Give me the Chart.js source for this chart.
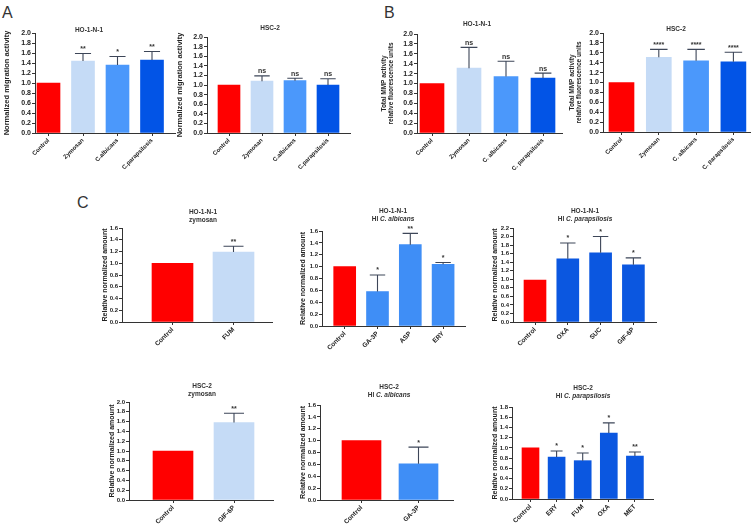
<!DOCTYPE html>
<html lang="en">
<head>
<meta charset="UTF-8">
<title>Migration, MMP activity and metabolites</title>
<script src="https://cdn.jsdelivr.net/npm/chart.js"></script>
<style>
  html, body { margin: 0; padding: 0; background: #fff; overflow: hidden; }
  body { width: 751px; height: 527px; position: relative; font-family: "Liberation Sans", Arial, sans-serif; }
  canvas { position: absolute; }
  .letter { position: absolute; font-size: 16px; line-height: 1; color: #333; }
</style>
</head>
<body>
<div class="letter" style="left:2px;top:5px">A</div>
<div class="letter" style="left:384px;top:5px">B</div>
<div class="letter" style="left:77px;top:195px">C</div>
<script>
// ---- data ----
const catsA = ['Control', 'Zymosan', 'C.albicans', 'C.parapsilosis'];
const catsB = ['Control', 'Zymosan', 'C. albicans', 'C. parapsilosis'];

// A: migration
const migHO = [1.0, 1.44, 1.36, 1.46];
const migHOsd = [0, 0.15, 0.17, 0.17];
const migHOsig = ['', '**', '*', '**'];

const migHSC = [1.0, 1.08, 1.09, 1.0];
const migHSCsd = [0, 0.11, 0.05, 0.13];
const migHSCsig = ['', 'ns', 'ns', 'ns'];

// B: total MMP activity
const mmpHO = [1.0, 1.31, 1.14, 1.11];
const mmpHOsd = [0, 0.42, 0.31, 0.10];
const mmpHOsig = ['', 'ns', 'ns', 'ns'];

const mmpHSC = [1.0, 1.51, 1.44, 1.42];
const mmpHSCsd = [0, 0.16, 0.23, 0.19];
const mmpHSCsig = ['', '****', '****', '****'];

// C: metabolites
const catsZymHO = ['Control', 'FUM'];
const zymHO = [1.0, 1.19];
const zymHOsd = [0, 0.10];
const zymHOsig = ['', '**'];

const catsAlbHO = ['Control', 'GA-3P', 'ASP', 'ERY'];
const albHO = [1.0, 0.58, 1.37, 1.04];
const albHOsd = [0, 0.28, 0.19, 0.03];
const albHOsig = ['', '*', '**', '*'];

const catsParHO = ['Control', 'OXA', 'SUC', 'GIF-6P'];
const parHO = [0.98, 1.48, 1.62, 1.34];
const parHOsd = [0, 0.37, 0.38, 0.16];
const parHOsig = ['', '*', '*', '*'];

const catsZymHSC = ['Control', 'GIF-6P'];
const zymHSC = [1.0, 1.58];
const zymHSCsd = [0, 0.19];
const zymHSCsig = ['', '**'];

const catsAlbHSC = ['Control', 'GA-3P'];
const albHSC = [1.0, 0.61];
const albHSCsd = [0, 0.28];
const albHSCsig = ['', '*'];

const catsParHSC = ['Control', 'ERY', 'FUM', 'OXA', 'MET'];
const parHSC = [1.0, 0.82, 0.75, 1.29, 0.84];
const parHSCsd = [0, 0.12, 0.15, 0.20, 0.08];
const parHSCsig = ['', '*', '*', '*', '**'];

// ---- styles ----
const RED = '#ff0000', LIGHT = '#c5dbf6', MID = '#4b98fb', DARK = '#0254e6';
const colA = [RED, LIGHT, MID, DARK];
const FONT = '"Liberation Sans", Arial, sans-serif';
const TP = 26, RP = 4;

Chart.defaults.font.family = FONT;
Chart.defaults.color = '#333';

const relAmount = 'Relative normalized amount';
const mmpTitle = ['Total MMP activity', 'relative fluorescence units'];

const panels = [
  { cats: catsA, vals: migHO, sd: migHOsd, sig: migHOsig, colors: colA, ytitle: 'Normalized migration activity', yMax: 2.0,
    axisX: 35, axisEnd: 175, top: 33, bottom: 133, c0: 48.5, sp: 34.5, bw: 23, yw: 33, xh: 50, xfs: 6, yfs: 7, ytfs: 7.5,
    title: [['HO-1-N-1']], tx: 89, ty: [30] },
  { cats: catsA, vals: migHSC, sd: migHSCsd, sig: migHSCsig, colors: colA, ytitle: 'Normalized migration activity', yMax: 2.0,
    axisX: 207, axisEnd: 350, top: 37, bottom: 133, c0: 229, sp: 33, bw: 22, yw: 32, xh: 50, xfs: 6, yfs: 7, ytfs: 7.5,
    title: [['HSC-2']], tx: 270, ty: [28] },
  { cats: catsB, vals: mmpHO, sd: mmpHOsd, sig: mmpHOsig, colors: colA, ytitle: mmpTitle, yMax: 2.0,
    axisX: 417, axisEnd: 562, top: 34, bottom: 133, c0: 432, sp: 37, bw: 24, yw: 37, xh: 50, xfs: 6, yfs: 7, ytfs: 6.5,
    title: [['HO-1-N-1']], tx: 477, ty: [24] },
  { cats: catsB, vals: mmpHSC, sd: mmpHSCsd, sig: mmpHSCsig, colors: colA, ytitle: mmpTitle, yMax: 2.0,
    axisX: 603, axisEnd: 750, top: 33, bottom: 132, c0: 621.5, sp: 37.3, bw: 25, yw: 35, xh: 50, xfs: 6, yfs: 7, ytfs: 6.5,
    title: [['HSC-2']], tx: 676, ty: [29] },
  { cats: catsZymHO, vals: zymHO, sd: zymHOsd, sig: zymHOsig, colors: [RED, LIGHT], ytitle: relAmount, yMax: 1.6,
    axisX: 122, axisEnd: 272, top: 228, bottom: 322, c0: 172.5, sp: 61, bw: 41, yw: 21, xh: 34, xfs: 6.5, yfs: 6, ytfs: 7,
    title: [['HO-1-N-1'], ['zymosan']], tx: 203, ty: [212, 220] },
  { cats: catsAlbHO, vals: albHO, sd: albHOsd, sig: albHOsig, colors: [RED, '#3f8ef6', '#3f8ef6', '#3f8ef6'], ytitle: relAmount, yMax: 1.6,
    axisX: 322, axisEnd: 465, top: 231, bottom: 326, c0: 344.7, sp: 32.8, bw: 22, yw: 23, xh: 34, xfs: 6.5, yfs: 6, ytfs: 7,
    title: [['HO-1-N-1'], ['HI ', '_C. albicans']], tx: 393, ty: [211, 219] },
  { cats: catsParHO, vals: parHO, sd: parHOsd, sig: parHOsig, colors: [RED, '#0b57e0', '#0b57e0', '#0b57e0'], ytitle: relAmount, yMax: 2.2,
    axisX: 513, axisEnd: 656, top: 228, bottom: 322, c0: 535, sp: 32.8, bw: 22, yw: 22, xh: 34, xfs: 6.5, yfs: 6, ytfs: 7,
    title: [['HO-1-N-1'], ['HI ', '_C. parapsilosis']], tx: 585, ty: [211, 219] },
  { cats: catsZymHSC, vals: zymHSC, sd: zymHSCsd, sig: zymHSCsig, colors: [RED, LIGHT], ytitle: relAmount, yMax: 2.0,
    axisX: 129, axisEnd: 273, top: 402, bottom: 500, c0: 173, sp: 61, bw: 40, yw: 21, xh: 34, xfs: 6.5, yfs: 6, ytfs: 7,
    title: [['HSC-2'], ['zymosan']], tx: 202, ty: [386, 394] },
  { cats: catsAlbHSC, vals: albHSC, sd: albHSCsd, sig: albHSCsig, colors: [RED, '#3f8ef6'], ytitle: relAmount, yMax: 1.6,
    axisX: 320, axisEnd: 453, top: 405, bottom: 500, c0: 361.5, sp: 57, bw: 39, yw: 21, xh: 34, xfs: 6.5, yfs: 6, ytfs: 7,
    title: [['HSC-2'], ['HI ', '_C. albicans']], tx: 389, ty: [387, 395] },
  { cats: catsParHSC, vals: parHSC, sd: parHSCsd, sig: parHSCsig, colors: [RED, '#0b57e0', '#0b57e0', '#0b57e0', '#0b57e0'], ytitle: relAmount, yMax: 1.8,
    axisX: 512, axisEnd: 653, top: 407, bottom: 499, c0: 530.5, sp: 26.1, bw: 17, yw: 21, xh: 34, xfs: 6.5, yfs: 6, ytfs: 7,
    title: [['HSC-2'], ['HI ', '_C. parapsilosis']], tx: 583, ty: [388, 396] }
];

// error bars, significance marks and two-style titles
function extras(p) {
  return {
    id: 'extras',
    afterDatasetsDraw(chart) {
      const {ctx, scales: {x, y}} = chart;
      ctx.save();
      ctx.strokeStyle = '#3d4658';
      ctx.lineWidth = 1.1;
      ctx.fillStyle = '#333';
      ctx.textAlign = 'center';
      ctx.textBaseline = 'bottom';
      ctx.font = 'bold 7px ' + FONT;
      p.vals.forEach((v, i) => {
        const cx = x.getPixelForValue(i);
        const y0 = y.getPixelForValue(v);
        const y1 = y.getPixelForValue(v + p.sd[i]);
        if (p.sd[i] > 0) {
          const hw = Math.min(p.bw * 0.35, 10);
          ctx.beginPath();
          ctx.moveTo(cx, y0); ctx.lineTo(cx, y1);
          ctx.moveTo(cx - hw, y1); ctx.lineTo(cx + hw, y1);
          ctx.stroke();
        }
        if (p.sig[i]) ctx.fillText(p.sig[i], cx, y1 - 1);
      });
      ctx.restore();
    },
    afterDraw(chart) {
      const ctx = chart.ctx;
      ctx.save();
      ctx.fillStyle = '#333';
      ctx.textBaseline = 'middle';
      ctx.textAlign = 'left';
      p.title.forEach((line, k) => {
        const segs = line.map(s => ({ t: s.replace(/^_/, ''), it: s.startsWith('_') }));
        let w = 0;
        segs.forEach(s => {
          ctx.font = (s.it ? 'italic ' : '') + 'bold 6.5px ' + FONT;
          s.w = ctx.measureText(s.t).width;
          w += s.w;
        });
        let cx = p.tx - p.left - w / 2;
        const cy = p.ty[k] - p.topPx;
        segs.forEach(s => {
          ctx.font = (s.it ? 'italic ' : '') + 'bold 6.5px ' + FONT;
          ctx.fillText(s.t, cx, cy);
          cx += s.w;
        });
      });
      ctx.restore();
    }
  };
}

panels.forEach(p => {
  const n = p.vals.length;
  p.left = p.axisX - p.yw;
  p.topPx = p.top - TP;
  const xmin = -(p.c0 - p.axisX) / p.sp;
  const xmax = (n - 1) + (p.axisEnd - (p.c0 + (n - 1) * p.sp)) / p.sp;

  const canvas = document.createElement('canvas');
  canvas.width = p.axisEnd - p.left + RP;
  canvas.height = TP + (p.bottom - p.top) + p.xh;
  canvas.style.left = p.left + 'px';
  canvas.style.top = p.topPx + 'px';
  document.body.appendChild(canvas);

  new Chart(canvas, {
    type: 'bar',
    data: {
      datasets: [{
        data: p.vals.map((v, i) => ({ x: i, y: v })),
        backgroundColor: p.colors,
        borderWidth: 0,
        barThickness: p.bw
      }]
    },
    options: {
      responsive: false,
      animation: false,
      devicePixelRatio: 1,
      layout: { padding: { top: TP, right: RP, left: 0, bottom: 0 } },
      plugins: { legend: { display: false }, tooltip: { enabled: false } },
      scales: {
        x: {
          type: 'linear',
          min: xmin,
          max: xmax,
          offset: false,
          grid: { drawOnChartArea: false, drawTicks: true, tickLength: 3, color: '#333', offset: false },
          border: { color: '#333', width: 1 },
          ticks: {
            stepSize: 1, includeBounds: false, autoSkip: false,
            minRotation: 45, maxRotation: 45, padding: 1, color: '#222',
            font: { size: p.xfs, weight: 'bold' },
            callback: v => (Number.isInteger(v) && p.cats[v]) ? p.cats[v] : ''
          },
          afterFit: s => { s.height = p.xh; }
        },
        y: {
          min: 0,
          max: p.yMax,
          grid: { drawOnChartArea: false, tickLength: 3, color: '#333' },
          border: { color: '#333', width: 1 },
          ticks: {
            stepSize: 0.2, autoSkip: false, padding: 1, color: '#222',
            font: { size: p.yfs, weight: 'bold' },
            callback: v => v.toFixed(1)
          },
          title: { display: true, text: p.ytitle, color: '#222', padding: 0, font: { size: p.ytfs, weight: 'bold' } },
          afterFit: s => { s.width = p.yw; }
        }
      }
    },
    plugins: [extras(p)]
  });
});
</script>
</body>
</html>
